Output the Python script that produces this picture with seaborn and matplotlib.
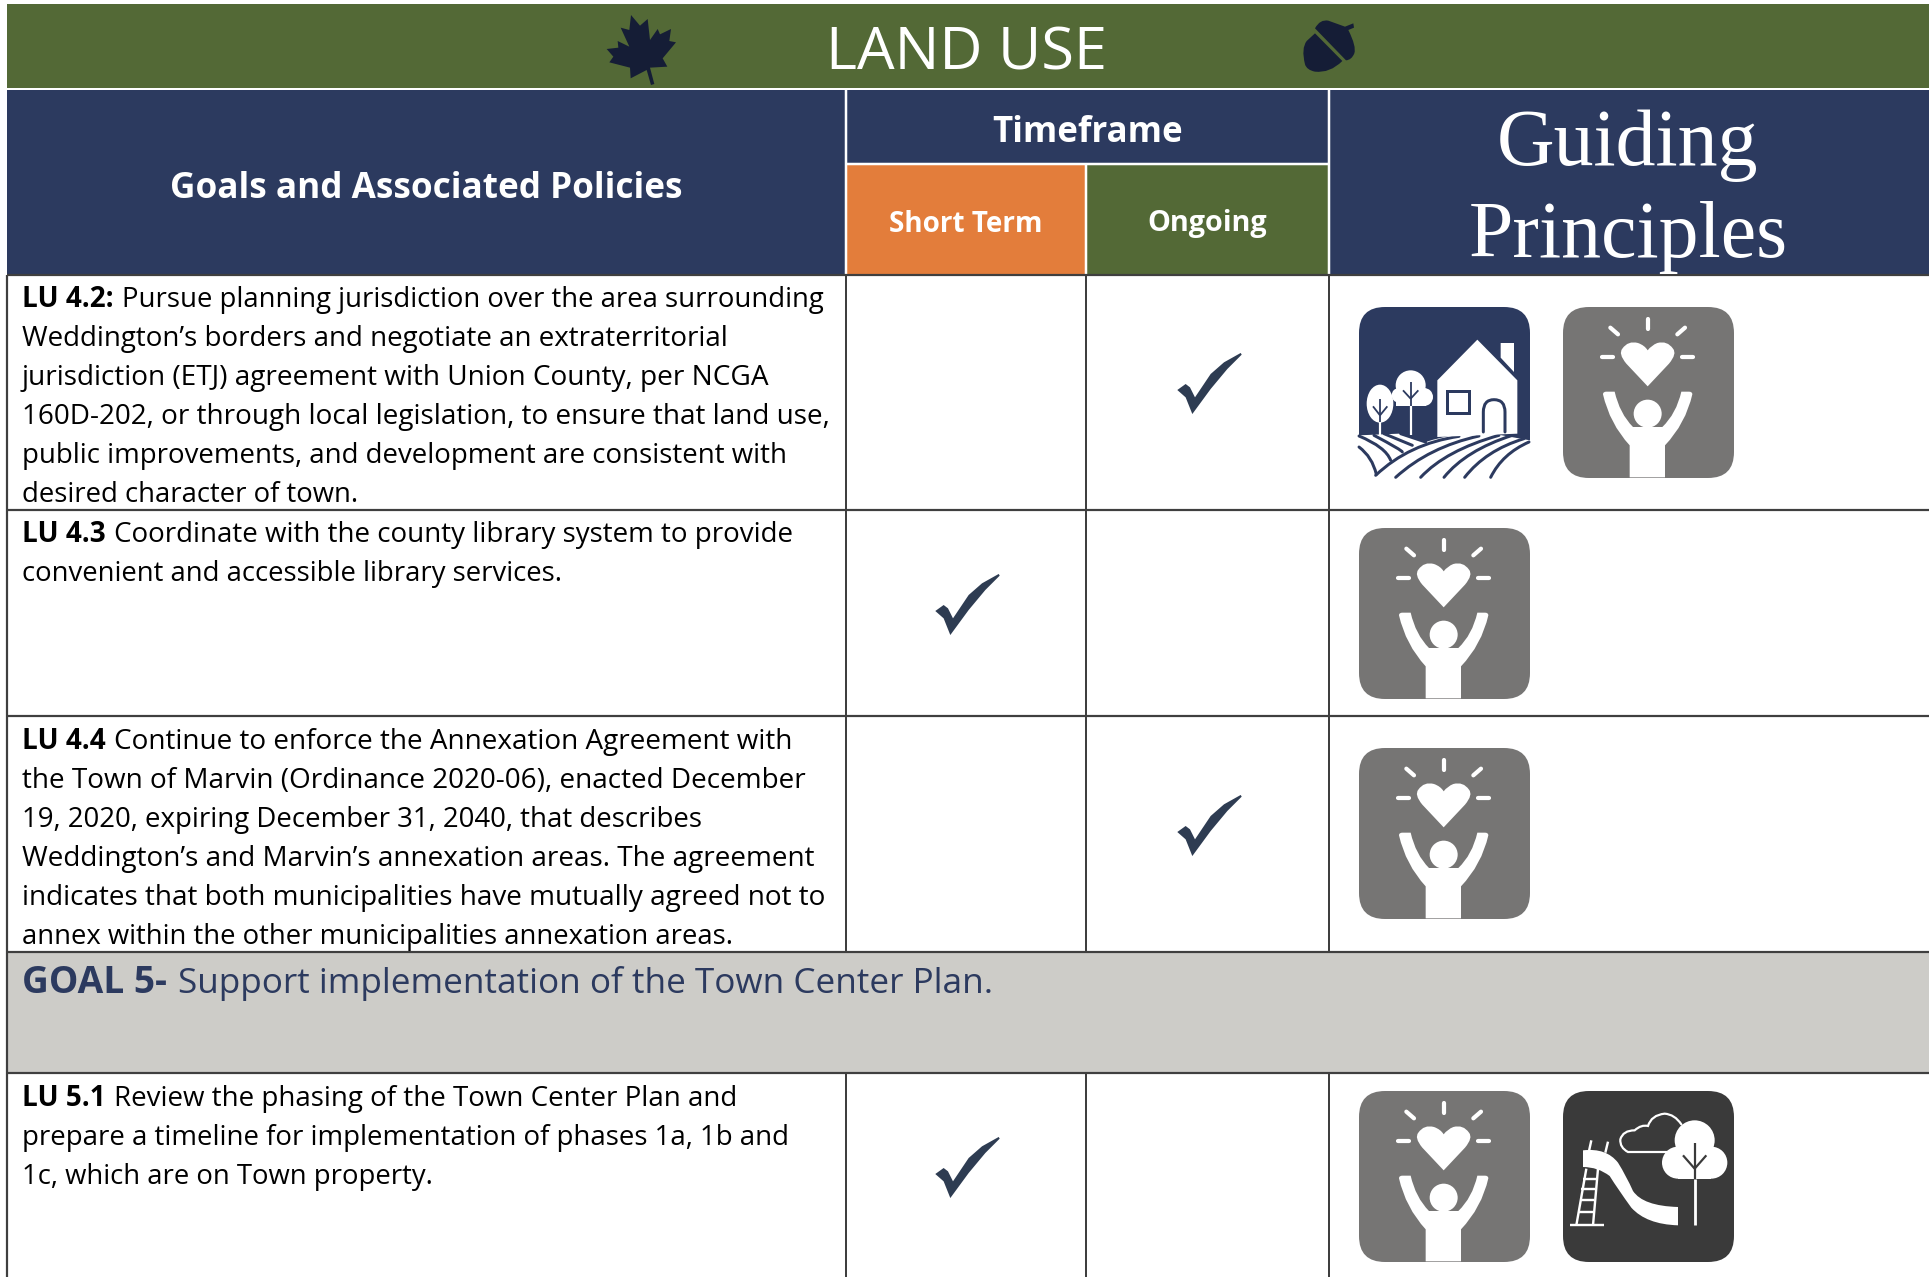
import numpy as np
import matplotlib
matplotlib.use("Agg")
import matplotlib.pyplot as plt
from matplotlib.patches import Rectangle, FancyBboxPatch, Circle, Ellipse, PathPatch, Polygon
from matplotlib.path import Path
import seaborn as sns

# ---------- content ----------
title = "LAND USE"
col_goals = "Goals and Associated Policies"
col_time = "Timeframe"
col_short = "Short Term"
col_ongoing = "Ongoing"
col_guiding = ["Guiding", "Principles"]

row_labels = ["LU 4.2:", "LU 4.3", "LU 4.4", "LU 5.1"]
row_lines = [
    ["Pursue planning jurisdiction over the area surrounding",
     "Weddington’s borders and negotiate an extraterritorial",
     "jurisdiction (ETJ) agreement with Union County, per NCGA",
     "160D-202, or through local legislation, to ensure that land use,",
     "public improvements, and development are consistent with",
     "desired character of town."],
    ["Coordinate with the county library system to provide",
     "convenient and accessible library services."],
    ["Continue to enforce the Annexation Agreement with",
     "the Town of Marvin (Ordinance 2020-06), enacted December",
     "19, 2020, expiring December 31, 2040, that describes",
     "Weddington’s and Marvin’s annexation areas. The agreement",
     "indicates that both municipalities have mutually agreed not to",
     "annex within the other municipalities annexation areas."],
    ["Review the phasing of the Town Center Plan and",
     "prepare a timeline for implementation of phases 1a, 1b and",
     "1c, which are on Town property."],
]
timeframe = ["Ongoing", "Short Term", "Ongoing", "Short Term"]
principles = [["home", "people"], ["people"], ["people"], ["people", "play"]]
goal_label = "GOAL 5-"
goal_text = "Support implementation of the Town Center Plan."

# ---------- style / layout ----------
NAVY, GREEN, ORANGE, GREY = "#2c3a5f", "#536936", "#e37d3b", "#cdccc8"
LINE, CHECK, DARKICON, GREYICON, LEAF = "#3f3f3f", "#2e3c52", "#3a3a3a", "#767574", "#151d36"
X0, X1, X2, X3, X4 = 7, 846, 1086, 1329, 1929
BANNER = (4, 88)
HEAD = (90, 164, 275)
GOAL = (952, 1073)
RULES = (275, 510, 716, 952, 1073)
FIRST_BASE = [307, 542.2, 749.2, 1106]
LEAD = 38.9
CHECK_Y = [383, 604, 825, 1167]
ICON_Y = [307, 528, 748, 1091]
ICON_X = [1359, 1563]
FONT, SERIF = "Open Sans", "Liberation Serif"
TEXT_X = 22
# right-hand end of every body text line, full-size pixels
LINE_ENDS = [[824, 728, 770, 829, 786, 358], [794, 562], [791, 803, 702, 812, 824, 731], [737, 789, 432]]

sns.set_theme(style="white")
plt.rcParams["font.family"] = [FONT, "DejaVu Sans"]

fig = plt.figure(figsize=(19.29, 12.77), dpi=100, facecolor="white")
ax = fig.add_axes([0, 0, 1, 1])
rend = fig.canvas.get_renderer()

def rect(x0, y0, x1, y1, c, z=1):
    ax.add_patch(Rectangle((x0, y0), x1 - x0, y1 - y0, fc=c, ec="none", zorder=z))

def hline(y, x0, x1, c=LINE, lw=2.0, z=3):
    ax.plot([x0, x1], [y, y], color=c, lw=lw * .72, zorder=z, solid_capstyle="butt")

def vline(x, y0, y1, c=LINE, lw=2.0, z=3):
    ax.plot([x, x], [y0, y1], color=c, lw=lw * .72, zorder=z, solid_capstyle="butt")

def fit(s, target, **kw):
    t = ax.text(0, 0, s, fontsize=20, **kw)
    w = t.get_window_extent(rend).width
    t.remove()
    return 20 * target / w

# backgrounds
rect(X0, BANNER[0], X4, BANNER[1], GREEN)
rect(X0, HEAD[0], X4, HEAD[2], NAVY)
rect(X1, HEAD[1], X2, HEAD[2], ORANGE)
rect(X2, HEAD[1], X3, HEAD[2], GREEN)
rect(X0, GOAL[0], X4, GOAL[1], GREY)

# header separators
vline(X1, HEAD[0], HEAD[2], "white", 2.5)
vline(X3, HEAD[0], HEAD[2], "white", 2.5)
vline(X2, HEAD[1], HEAD[2], "white", 2.5)
hline(HEAD[1], X1, X3, "white", 2.5)

# body rules
for y in RULES:
    hline(y, X0, X4, lw=2.2)
vline(X0, 275, 1277, lw=2.2)
for x in (X1, X2, X3):
    vline(x, 275, GOAL[0], lw=2.0)
    vline(x, GOAL[1], 1277, lw=2.0)

# header text
ax.text(967, 54, title, color="white", ha="center", va="center",
        fontsize=fit(title, 281), zorder=5)
ax.text(426, 188.5, col_goals, color="white", ha="center", va="center", weight="bold",
        fontsize=fit(col_goals, 512, weight="bold"), zorder=5)
ax.text(1088, 133.5, col_time, color="white", ha="center", va="center", weight="bold",
        fontsize=fit(col_time, 190, weight="bold"), zorder=5)
ax.text(966, 225, col_short, color="white", ha="center", va="center", weight="bold",
        fontsize=fit(col_short, 153, weight="bold"), zorder=5)
ax.text(1207, 224, col_ongoing, color="white", ha="center", va="center", weight="bold",
        fontsize=fit(col_ongoing, 120, weight="bold"), zorder=5)
gs = fit(col_guiding[1], 320, family=SERIF)
ax.text(1628, 146, col_guiding[0], color="white", ha="center", va="center", family=SERIF, fontsize=gs, zorder=5)
ax.text(1628, 238, col_guiding[1], color="white", ha="center", va="center", family=SERIF, fontsize=gs, zorder=5)

# body text
BODY = fit(row_lines[0][3], 807)
def mixed(x, y, bold, rest, size, color, end, gap=.3):
    t = ax.text(x, y, bold, weight="bold", fontsize=size, color=color, va="baseline", zorder=5)
    x1 = x + t.get_window_extent(rend).width + size * 1.39 * gap
    ax.text(x1, y, rest, fontsize=fit(rest, end - x1), color=color, va="baseline", zorder=5)

for i, lines in enumerate(row_lines):
    mixed(TEXT_X, FIRST_BASE[i], row_labels[i], lines[0], BODY, "black", LINE_ENDS[i][0])
    for k, line in enumerate(lines[1:], 1):
        ax.text(TEXT_X, FIRST_BASE[i] + k * LEAD, line, fontsize=fit(line, LINE_ENDS[i][k] - TEXT_X),
                color="black", va="baseline", zorder=5)
mixed(TEXT_X, 993, goal_label, goal_text, BODY * 1.33, NAVY, 990, gap=.3)

# check marks
cv = np.array([(50, 148), (75, 130), (88, 140), (103, 170), (150, 100), (190, 65), (240, 37),
               (243, 42), (200, 85), (150, 145), (95, 220), (75, 170), (50, 148)], float)
cv[:, 0] -= 146.5
cv[:, 1] = 128.5 - cv[:, 1]
check_marker = Path(cv, closed=True)
cx = [{"Short Term": (X1 + X2) / 2 + 1, "Ongoing": (X2 + X3) / 2 + 1.5}[t] for t in timeframe]
sns.scatterplot(x=cx, y=CHECK_Y, marker=check_marker, s=2150, color=CHECK, linewidth=0,
                legend=False, ax=ax, zorder=6)

# ---------- icons (coordinates in 3x zoom units within a 512-unit tile) ----------
def curve(pts):
    v, c = [], []
    for p in pts:
        if p[0] == "M":
            v.append(p[1:]); c.append(Path.MOVETO)
        elif p[0] == "L":
            v.append(p[1:]); c.append(Path.LINETO)
        elif p[0] == "Q":
            v += [p[1:3], p[3:5]]; c += [Path.CURVE3, Path.CURVE3]
    return np.array(v, float), c

def add_path(ox, oy, pts, fc="none", ec="none", lw=0, z=7):
    v, c = curve(pts)
    v = v / 3 + (ox, oy)
    ax.add_patch(PathPatch(Path(v, c), fc=fc, ec=ec, lw=lw * .72, zorder=z, capstyle="round"))

def seg(ox, oy, a, b, c="white", lw=2, z=8, cap="butt"):
    ax.plot([ox + a[0] / 3, ox + b[0] / 3], [oy + a[1] / 3, oy + b[1] / 3], color=c,
            lw=lw * .72, zorder=z, solid_capstyle=cap)

def tile(ox, oy, c):
    ax.add_patch(FancyBboxPatch((ox + 26, oy + 26), 171 - 52, 171 - 52,
                                boxstyle="round,pad=26,rounding_size=26", fc=c, ec="none", zorder=6))

def people(ox, oy):
    tile(ox, oy, GREYICON)
    for a, b in [((254, 36), (254, 67)), ((142, 62), (165, 82)), ((366, 62), (343, 82)),
                 ((118, 151), (150, 151)), ((358, 151), (390, 151))]:
        seg(ox, oy, a, b, "white", 4.2, cap="round")
    add_path(ox, oy, [("M", 254, 238), ("L", 190, 170), ("Q", 165, 140, 178, 125), ("Q", 195, 100, 225, 108),
                      ("Q", 245, 115, 254, 130), ("Q", 265, 115, 283, 108), ("Q", 313, 100, 330, 125),
                      ("Q", 343, 140, 318, 170), ("L", 254, 238)], fc="white")
    add_path(ox, oy, [("M", 120, 262), ("Q", 140, 350, 200, 415), ("L", 200, 511), ("L", 306, 511), ("L", 306, 415),
                      ("Q", 368, 350, 388, 262), ("Q", 388, 254, 378, 254), ("L", 355, 254), ("Q", 340, 320, 298, 360),
                      ("L", 210, 360), ("Q", 170, 320, 155, 254), ("L", 130, 254), ("Q", 120, 254, 120, 262)], fc="white")
    ax.add_patch(Circle((ox + 254 / 3, oy + 320 / 3), 42 / 3, fc="white", ec="none", zorder=8))

def home(ox, oy):
    tile(ox, oy, NAVY)
    # fields
    add_path(ox, oy, [("M", 0, 385), ("L", 120, 380), ("L", 200, 405), ("Q", 290, 375, 390, 378), ("L", 513, 400),
                      ("L", 513, 513), ("L", -1, 513), ("L", 0, 385)], fc="white")
    for a, q, b in [((50, 505), (150, 410), (300, 388)), ((110, 511), (210, 420), (360, 387)),
                    ((185, 511), (260, 430), (420, 385)), ((255, 511), (320, 430), (460, 385)),
                    ((317, 511), (380, 430), (495, 395)), ((395, 511), (430, 440), (510, 405)),
                    ((0, 420), (40, 450), (52, 502)), ((0, 387), (80, 420), (95, 460)),
                    ((45, 385), (130, 430), (130, 435)), ((75, 380), (160, 415), (160, 415)),
                    ((125, 380), (200, 405), (200, 405))]:
        add_path(ox, oy, [("M", *a), ("Q", *q, *b)], ec=NAVY, lw=3, z=8)
    # house
    ax.add_patch(Polygon(np.array([(235, 220), (355, 98), (475, 220), (475, 380), (235, 390)]) / 3 + (ox, oy),
                         fc="white", ec="none", zorder=8))
    ax.add_patch(Polygon(np.array([(425, 108), (465, 108), (465, 195), (425, 152)]) / 3 + (ox, oy),
                         fc="white", ec="none", zorder=8))
    ax.add_patch(Rectangle((ox + 264 / 3, oy + 253 / 3), 66 / 3, 66 / 3, fc="none", ec=NAVY, lw=3 * .72, zorder=9))
    add_path(ox, oy, [("M", 373, 375), ("L", 373, 315), ("Q", 373, 278, 405, 278), ("Q", 438, 278, 438, 315),
                      ("L", 438, 375)], ec=NAVY, lw=3, z=9)
    # trees
    ax.add_patch(Ellipse((ox + 63 / 3, oy + 290 / 3), 80 / 3, 114 / 3, fc="white", ec="none", zorder=8))
    for c_, r_ in [((155, 235), 45), ((120, 265), 22), ((195, 270), 27)]:
        ax.add_patch(Circle((ox + c_[0] / 3, oy + c_[1] / 3), r_ / 3, fc="white", ec="none", zorder=8))
    ax.add_patch(Rectangle((ox + 110 / 3, oy + 250 / 3), 90 / 3, 48 / 3, fc="white", ec="none", zorder=8))
    seg(ox, oy, (63, 275), (63, 345), NAVY, 1.8, 9)
    seg(ox, oy, (42, 298), (63, 325), NAVY, 1.8, 9)
    seg(ox, oy, (85, 298), (63, 325), NAVY, 1.8, 9)
    seg(ox, oy, (155, 225), (155, 298), NAVY, 1.8, 9)
    seg(ox, oy, (132, 250), (155, 275), NAVY, 1.8, 9)
    seg(ox, oy, (178, 250), (155, 275), NAVY, 1.8, 9)
    seg(ox, oy, (63, 345), (63, 385), "white", 2.2, 9)
    seg(ox, oy, (155, 298), (155, 385), "white", 2.2, 9)

def play(ox, oy):
    tile(ox, oy, DARKICON)
    add_path(ox, oy, [("M", 60, 178), ("Q", 130, 170, 165, 215), ("Q", 190, 255, 210, 300), ("Q", 240, 345, 345, 348),
                      ("L", 345, 403), ("Q", 250, 400, 205, 350), ("Q", 165, 295, 140, 255), ("Q", 105, 228, 60, 228),
                      ("L", 60, 178)], fc="white")
    for a, b in [((70, 233), (40, 403)), ((105, 233), (90, 403)), ((85, 148), (78, 180)), ((135, 152), (127, 185)),
                 ((22, 403), (122, 403))]:
        seg(ox, oy, a, b, "white", 2.4)
    for y, x0, x1 in [(263, 60, 98), (293, 55, 95), (328, 50, 93), (363, 45, 90)]:
        seg(ox, oy, (x0, y), (x1, y), "white", 2.4)
    add_path(ox, oy, [("M", 320, 183), ("L", 195, 183), ("Q", 170, 170, 172, 145), ("Q", 180, 118, 215, 118),
                      ("Q", 235, 100, 255, 105), ("Q", 265, 72, 305, 68), ("Q", 335, 70, 355, 100)], ec="white", lw=2.2)
    for c_, r_ in [((395, 148), 60), ((345, 215), 48), ((445, 215), 48)]:
        ax.add_patch(Circle((ox + c_[0] / 3, oy + c_[1] / 3), r_ / 3, fc="white", ec="none", zorder=8))
    ax.add_patch(Rectangle((ox + 345 / 3, oy + 150 / 3), 100 / 3, 113 / 3, fc="white", ec="none", zorder=8))
    seg(ox, oy, (395, 155), (395, 263), DARKICON, 2.2, 9)
    seg(ox, oy, (360, 193), (395, 233), DARKICON, 2.2, 9)
    seg(ox, oy, (430, 193), (395, 233), DARKICON, 2.2, 9)
    seg(ox, oy, (395, 263), (395, 403), "white", 2.8, 9)

draw_icon = {"home": home, "people": people, "play": play}
for y, names in zip(ICON_Y, principles):
    for x, name in zip(ICON_X, names):
        draw_icon[name](x, y)

# banner emblems
leaf = np.array([(123, 30), (150, 62), (173, 42), (180, 105), (203, 72), (210, 88), (243, 72), (238, 108), (258, 112),
                 (218, 160), (232, 185), (180, 188), (193, 237), (183, 240), (170, 195), (122, 220), (120, 188),
                 (58, 172), (70, 155), (50, 132), (85, 128), (83, 108), (118, 125), (92, 68), (118, 75)], float)
ax.add_patch(Polygon(leaf / 3 + (590, 5), fc=LEAF, ec="none", zorder=6))
add_path(1285, 5, [("M", 90, 70), ("Q", 105, 42, 130, 47), ("L", 180, 65), ("L", 205, 55), ("L", 207, 68), ("L", 190, 75),
                   ("Q", 215, 125, 208, 145), ("Q", 200, 165, 183, 166), ("L", 90, 70)], fc=LEAF)
add_path(1285, 5, [("M", 90, 85), ("L", 172, 168), ("Q", 135, 205, 90, 200), ("Q", 65, 195, 60, 178), ("Q", 48, 130, 65, 108),
                   ("L", 90, 85)], fc=LEAF)

ax.set_xlim(0, 1929)
ax.set_ylim(1277, 0)
ax.set_axis_off()
fig.savefig("out.png", dpi=100, facecolor="white")
